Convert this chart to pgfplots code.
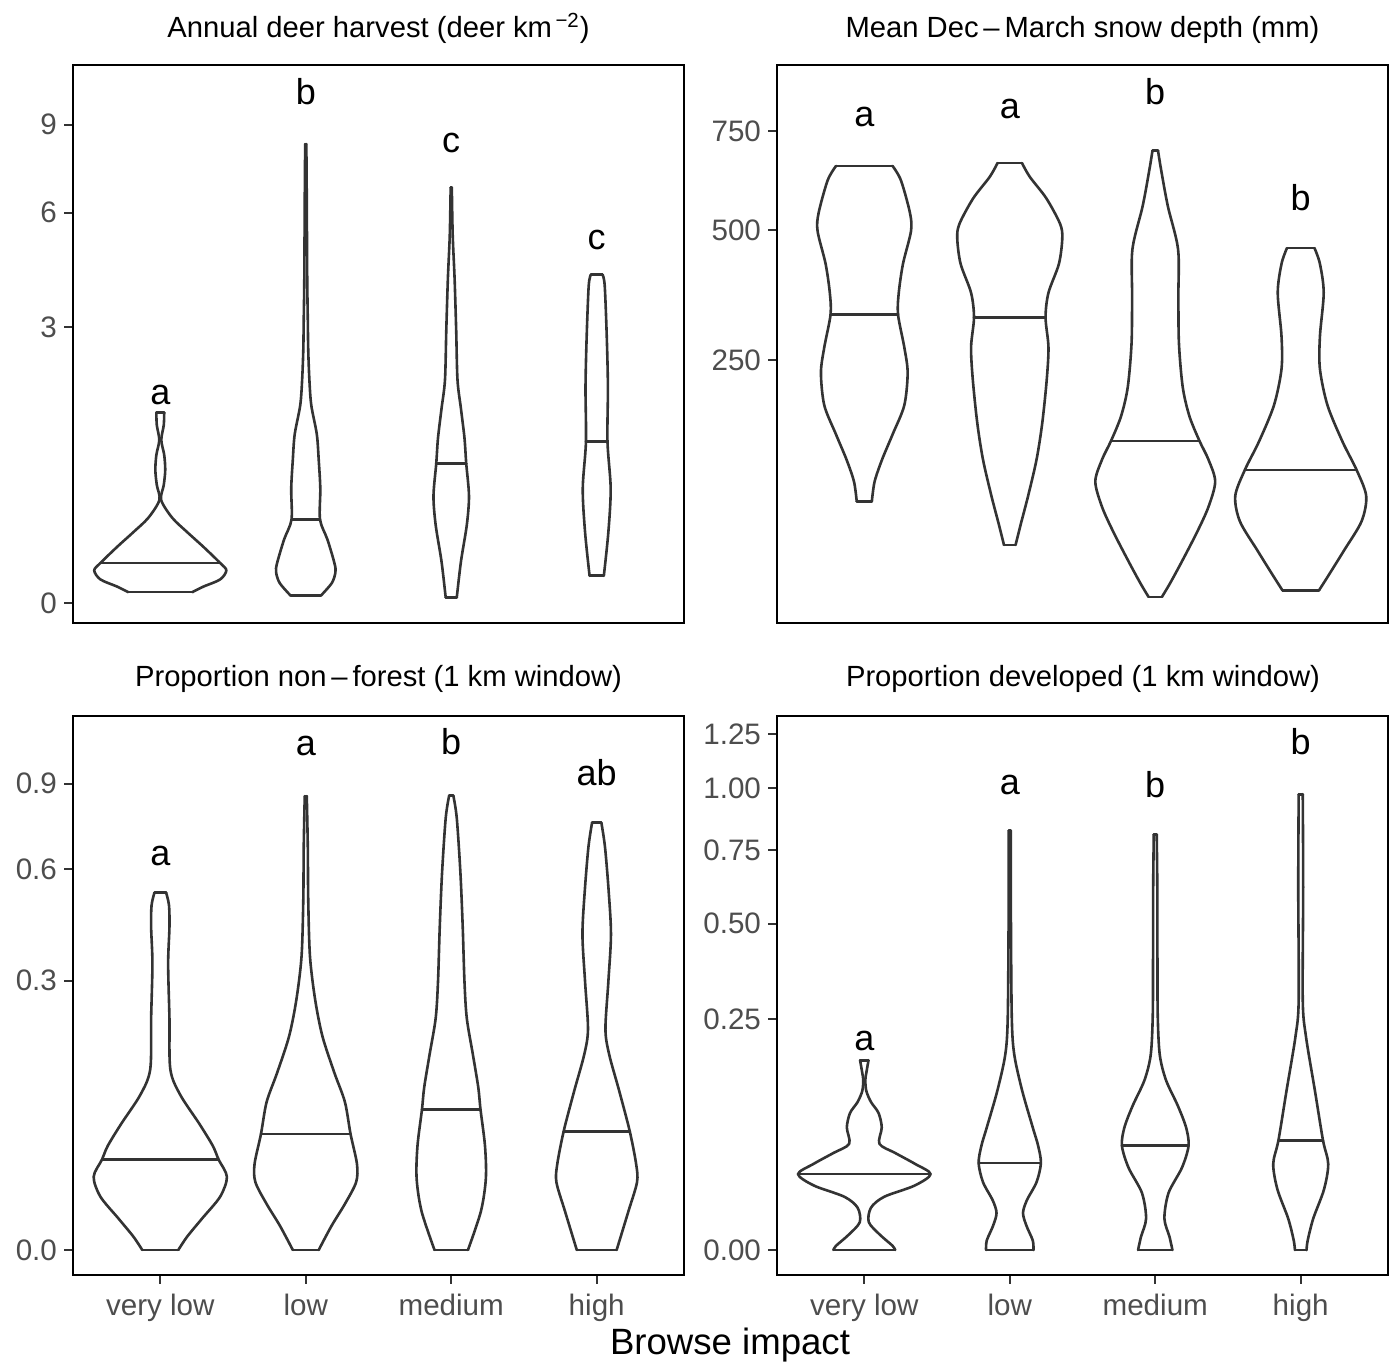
\documentclass[border=0pt]{standalone}
\usepackage{fontspec}
\setmainfont{Liberation Sans}
\usepackage{pgfplots}
\pgfplotsset{compat=1.18}
\usepackage{pgfplotstable}

\definecolor{vline}{HTML}{333333}
\definecolor{ticktext}{HTML}{4D4D4D}

% Violin outlines: y in data units, w = half-width in category units.
% First and last rows are the flat ends of each violin.
% Annual deer harvest
\pgfplotstableread{
y w
0.0046 0.220
0.0105 0.296
0.0219 0.412
0.0418 0.454
0.0627 0.412
0.1243 0.296
0.1967 0.186
0.2857 0.082
0.4175 0.006
0.5480 0.024
0.6962 0.034
0.8621 0.027
1.0457 0.007
1.2470 0.024
1.4268 0.027
}\dhA
\pgfplotstableread{
y w
0.00204 0.103
0.0156 0.179
0.0373 0.204
0.0627 0.197
0.1587 0.149
0.2738 0.098
0.5142 0.100
0.8082 0.089
1.1201 0.076
1.5383 0.038
1.957 0.025
2.519 0.017
3.152 0.014
4.149 0.010
6.392 0.007
8.289 0.004
}\dhB
\pgfplotstableread{
y w
0.00115 0.038
0.0684 0.067
0.2394 0.107
0.4506 0.122
0.7670 0.103
1.0715 0.091
1.4828 0.067
1.959 0.043
2.933 0.034
4.149 0.023
5.336 0.010
6.791 0.004
}\dhC
\pgfplotstableread{
y w
0.0291 0.049
0.1967 0.080
0.5142 0.096
1.0253 0.074
1.833 0.077
2.797 0.069
3.965 0.055
4.242 0.040
}\dhD

% Mean Dec-March snow depth
\pgfplotstableread{
y w
75.2 0.052
93.6 0.071
116.2 0.122
145.5 0.195
182.9 0.275
230.2 0.298
270.8 0.275
327.8 0.232
368.9 0.237
427.3 0.266
498.1 0.321
540.0 0.314
619.2 0.252
656.2 0.194
}\snA
\pgfplotstableread{
y w
41.9 0.040
55.9 0.074
80.0 0.126
116.2 0.184
159.0 0.223
219.3 0.254
270.8 0.266
322.6 0.246
368.9 0.266
427.3 0.338
482.0 0.361
514.7 0.346
574.6 0.252
628.5 0.137
663.7 0.084
}\snB
\pgfplotstableread{
y w
14.8 0.046
20.7 0.103
31.9 0.184
50.6 0.287
70.5 0.366
93.6 0.412
116.2 0.366
137.5 0.304
168.3 0.235
208.5 0.189
276.9 0.163
361.8 0.159
458.1 0.157
557.0 0.086
646.9 0.040
696.4 0.019
}\snC
\pgfplotstableread{
y w
17.5 0.126
24.1 0.189
38.4 0.298
58.7 0.418
80.0 0.450
105.3 0.384
136.7 0.287
182.9 0.184
235.9 0.132
289.2 0.132
368.9 0.158
427.3 0.132
460.5 0.095
}\snD

% Proportion non-forest
\pgfplotstableread{
y w
0 0.124
0.00072 0.184
0.00408 0.287
0.0118 0.412
0.0222 0.458
0.0338 0.401
0.0449 0.361
0.0658 0.269
0.0997 0.137
0.1352 0.069
0.2222 0.063
0.3393 0.054
0.4313 0.063
0.4916 0.060
0.5288 0.040
}\nfA
\pgfplotstableread{
y w
0 0.089
0.00240 0.177
0.00876 0.269
0.0190 0.346
0.0306 0.352
0.0556 0.308
0.0907 0.269
0.1298 0.197
0.1887 0.115
0.2585 0.065
0.3568 0.029
0.5071 0.017
0.6720 0.014
0.8529 0.007
}\nfB
\pgfplotstableread{
y w
0 0.115
0.00620 0.204
0.0212 0.238
0.0449 0.232
0.0820 0.201
0.1093 0.186
0.1579 0.149
0.2222 0.107
0.2978 0.091
0.4313 0.079
0.5896 0.063
0.7726 0.038
0.8555 0.014
}\nfC
\pgfplotstableread{
y w
0 0.137
0.00620 0.218
0.0190 0.277
0.0306 0.271
0.0584 0.227
0.1045 0.155
0.1579 0.086
0.2018 0.060
0.2978 0.080
0.4120 0.098
0.5341 0.082
0.6720 0.057
0.7558 0.032
}\nfD

% Proportion developed
\pgfplotstableread{
y w
0 0.212
0.000079 0.195
0.00106 0.109
0.00363 0.031
0.0084 0.046
0.0133 0.137
0.0194 0.344
0.0270 0.456
0.0348 0.349
0.0442 0.212
0.0529 0.104
0.0705 0.120
0.0881 0.098
0.1028 0.046
0.1186 0.014
0.1354 0.007
0.1473 0.014
0.1691 0.029
}\dvA
\pgfplotstableread{
y w
0 0.163
0.00043 0.158
0.00273 0.115
0.0064 0.091
0.01155 0.117
0.0216 0.184
0.0354 0.214
0.0510 0.195
0.0705 0.158
0.1186 0.086
0.1791 0.031
0.2521 0.014
0.5113 0.008
0.8255 0.007
}\dvB
\pgfplotstableread{
y w
0 0.118
0.00082 0.098
0.00463 0.063
0.0152 0.091
0.0319 0.184
0.0510 0.229
0.0705 0.212
0.0978 0.155
0.1354 0.074
0.1791 0.031
0.2602 0.017
0.4226 0.015
0.6307 0.014
0.8110 0.010
}\dvC
\pgfplotstableread{
y w
0 0.040
0.00043 0.048
0.00463 0.086
0.0172 0.160
0.0348 0.189
0.0565 0.153
0.1186 0.098
0.2140 0.036
0.2932 0.014
0.6180 0.017
0.9750 0.014
}\dvD

\pgfplotsset{
  panel/.style={
    scale only axis, width=305.5pt, anchor=south west,
    xmin=0.4, xmax=4.6,
    axis line style={black, line width=1pt},
    tick align=outside, tick pos=left,
    major tick length=4.5pt,
    tick style={vline, line width=1pt},
    y filter/.expression={sqrt(y)},
    ticklabel style={font=\fontsize{14.8}{17}\selectfont, text=ticktext},
    xticklabel style={yshift=-1.5pt},
  },
  vio/.style={vline, line width=1.3pt, smooth, tension=0.5, line join=round, line cap=round},
  med/.style={vline, line width=1.3pt, line cap=round},
}
\tikzset{grp/.style={font=\fontsize{18}{21}\selectfont, anchor=base, inner sep=0pt}}

% Outline of one violin: two smooth sides plus straight flat ends
\newcommand{\violin}[2]{%
  \pgfplotstablegetrowsof{#1}%
  \pgfmathtruncatemacro{\lastrow}{\pgfplotsretval-1}%
  \pgfplotstablegetelem{0}{y}\of{#1}\let\ybot\pgfplotsretval
  \pgfplotstablegetelem{0}{w}\of{#1}\let\wbot\pgfplotsretval
  \pgfplotstablegetelem{\lastrow}{y}\of{#1}\let\ytop\pgfplotsretval
  \pgfplotstablegetelem{\lastrow}{w}\of{#1}\let\wtop\pgfplotsretval
  \pgfmathsetmacro{\xbl}{#2-\wbot}\pgfmathsetmacro{\xbr}{#2+\wbot}%
  \pgfmathsetmacro{\xtl}{#2-\wtop}\pgfmathsetmacro{\xtr}{#2+\wtop}%
  \addplot[vio] table[x expr={#2+\thisrow{w}}, y=y] {#1};
  \addplot[vio] table[x expr={#2-\thisrow{w}}, y=y] {#1};
  \addplot[med] coordinates {(\xbl,\ybot) (\xbr,\ybot)};
  \addplot[med] coordinates {(\xtl,\ytop) (\xtr,\ytop)};
}

\begin{document}
\begin{tikzpicture}[font=\fontsize{14.6}{17}\selectfont]
\path[use as bounding box] (0,0) rectangle (698pt,681.5pt);

% Annual deer harvest
\begin{axis}[panel, at={(36.5pt,370pt)}, height=279pt,
  ymin=-0.1255, ymax=3.3752,
  ytick={0,1.7320508,2.4494897,3}, yticklabels={0,3,6,9},
  xtick=\empty]
  \violin{\dhA}{1}
  \violin{\dhB}{2}
  \violin{\dhC}{3}
  \violin{\dhD}{4}
  \addplot[med] coordinates {(0.588,0.0627) (1.412,0.0627)};
  \addplot[med] coordinates {(1.902,0.2738) (2.098,0.2738)};
  \addplot[med] coordinates {(2.897,0.767) (3.103,0.767)};
  \addplot[med] coordinates {(3.926,1.0253) (4.074,1.0253)};
  \node[grp] at (axis cs:1,1.248) {a};
  \node[grp] at (axis cs:2,3.130) {b};
  \node[grp] at (axis cs:3,2.823) {c};
  \node[grp] at (axis cs:4,2.215) {c};
\end{axis}

% Mean Dec-March snow depth
\begin{axis}[panel, at={(388.5pt,370pt)}, height=279pt,
  ymin=2.530, ymax=30.712,
  ytick={15.811388,22.36068,27.386128}, yticklabels={250,500,750},
  xtick=\empty]
  \violin{\snA}{1}
  \violin{\snB}{2}
  \violin{\snC}{3}
  \violin{\snD}{4}
  \addplot[med] coordinates {(0.768,327.8) (1.232,327.8)};
  \addplot[med] coordinates {(1.754,322.6) (2.246,322.6)};
  \addplot[med] coordinates {(2.696,137.5) (3.304,137.5)};
  \addplot[med] coordinates {(3.616,105.3) (4.384,105.3)};
  \node[grp] at (axis cs:1,27.63) {a};
  \node[grp] at (axis cs:2,28.00) {a};
  \node[grp] at (axis cs:3,28.74) {b};
  \node[grp] at (axis cs:4,23.34) {b};
\end{axis}

% Proportion non-forest
\begin{axis}[panel, at={(36.5pt,44pt)}, height=279.5pt,
  ymin=-0.0509, ymax=1.0865,
  ytick={0,0.5477226,0.7745967,0.9486833}, yticklabels={0.0,0.3,0.6,0.9},
  xtick={1,2,3,4}, xticklabels={very low,low,medium,high}]
  \violin{\nfA}{1}
  \violin{\nfB}{2}
  \violin{\nfC}{3}
  \violin{\nfD}{4}
  \addplot[med] coordinates {(0.599,0.0338) (1.401,0.0338)};
  \addplot[med] coordinates {(1.692,0.0556) (2.308,0.0556)};
  \addplot[med] coordinates {(2.799,0.0820) (3.201,0.0820)};
  \addplot[med] coordinates {(3.773,0.0584) (4.227,0.0584)};
  \node[grp] at (axis cs:1,0.7827) {a};
  \node[grp] at (axis cs:2,1.0051) {a};
  \node[grp] at (axis cs:3,1.0087) {b};
  \node[grp] at (axis cs:4,0.9457) {ab};
\end{axis}

% Proportion developed
\begin{axis}[panel, at={(388.5pt,44pt)}, height=279.5pt,
  ymin=-0.0542, ymax=1.1571,
  ytick={0,0.5,0.7071068,0.8660254,1,1.1180340},
  yticklabels={0.00,0.25,0.50,0.75,1.00,1.25},
  xtick={1,2,3,4}, xticklabels={very low,low,medium,high}]
  \violin{\dvA}{1}
  \violin{\dvB}{2}
  \violin{\dvC}{3}
  \violin{\dvD}{4}
  \addplot[med] coordinates {(0.544,0.0270) (1.456,0.0270)};
  \addplot[med] coordinates {(1.786,0.0354) (2.214,0.0354)};
  \addplot[med] coordinates {(2.771,0.0510) (3.229,0.0510)};
  \addplot[med] coordinates {(3.847,0.0565) (4.153,0.0565)};
  \node[grp] at (axis cs:1,0.4312) {a};
  \node[grp] at (axis cs:2,0.9874) {a};
  \node[grp] at (axis cs:3,0.9794) {b};
  \node[grp] at (axis cs:4,1.0743) {b};
\end{axis}

% Panel titles and shared axis title
\node[anchor=base] at (189.25pt,662.75pt) {Annual deer harvest (deer km\textsuperscript{\,−2})};
\node[anchor=base] at (541.25pt,662.75pt) {Mean Dec\,–\,March snow depth (mm)};
\node[anchor=base] at (189.25pt,338pt) {Proportion non\,–\,forest (1 km window)};
\node[anchor=base] at (541.5pt,338pt) {Proportion developed (1 km window)};
\node[anchor=base, font=\fontsize{18.3}{22}\selectfont] at (365pt,4pt) {Browse impact};
\end{tikzpicture}
\end{document}
